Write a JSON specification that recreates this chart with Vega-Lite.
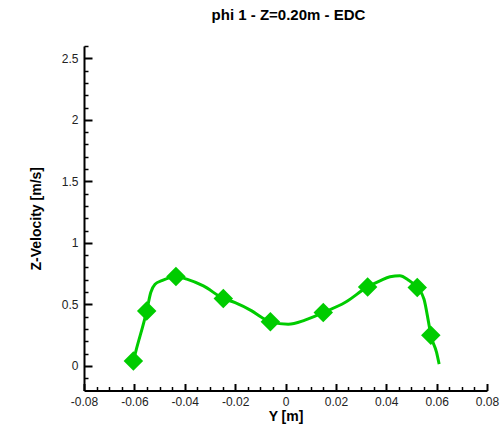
{
  "$schema": "https://vega.github.io/schema/vega-lite/v6.json",
  "width": 403,
  "height": 344.5,
  "autosize": "none",
  "padding": {"left": 84, "top": 46, "right": 16, "bottom": 39.5},
  "background": "white",
  "title": {"text": "phi 1 - Z=0.20m - EDC", "font": "Liberation Sans", "fontSize": 15, "fontWeight": "bold", "color": "black", "anchor": "middle", "offset": 17, "dx": 3},
  "config": {"view": {"stroke": null}},
  "datasets": {
    "curve": [
      {"y": -0.0604, "v": 0.04}, {"y": -0.0594, "v": 0.12}, {"y": -0.0551, "v": 0.447}, {"y": -0.0535, "v": 0.597},
      {"y": -0.0518, "v": 0.664}, {"y": -0.0491, "v": 0.693}, {"y": -0.0435, "v": 0.727}, {"y": -0.0392, "v": 0.705},
      {"y": -0.0326, "v": 0.65}, {"y": -0.0247, "v": 0.548}, {"y": -0.02, "v": 0.515}, {"y": -0.0134, "v": 0.447},
      {"y": -0.0094, "v": 0.393}, {"y": -0.006, "v": 0.358}, {"y": 0.0011, "v": 0.339}, {"y": 0.0077, "v": 0.372},
      {"y": 0.015, "v": 0.434}, {"y": 0.0236, "v": 0.515}, {"y": 0.0326, "v": 0.642}, {"y": 0.0375, "v": 0.691},
      {"y": 0.0415, "v": 0.724}, {"y": 0.0454, "v": 0.732}, {"y": 0.0487, "v": 0.699}, {"y": 0.0523, "v": 0.637},
      {"y": 0.055, "v": 0.542}, {"y": 0.0567, "v": 0.366}, {"y": 0.0577, "v": 0.25}, {"y": 0.06, "v": 0.108},
      {"y": 0.061, "v": 0.014}
    ],
    "markers": [
      {"y": -0.0604, "v": 0.04}, {"y": -0.0551, "v": 0.447}, {"y": -0.0435, "v": 0.727}, {"y": -0.0247, "v": 0.548},
      {"y": -0.006, "v": 0.358}, {"y": 0.015, "v": 0.434}, {"y": 0.0326, "v": 0.642}, {"y": 0.0523, "v": 0.637},
      {"y": 0.0577, "v": 0.25}
    ]
  },
  "encoding": {
    "x": {
      "field": "y", "type": "quantitative",
      "scale": {"domain": [-0.08, 0.08], "nice": false, "zero": false},
      "axis": {
        "title": "Y [m]", "titleFont": "Liberation Sans", "titleFontSize": 14, "titleFontWeight": "bold", "titleColor": "black", "titlePadding": -1,
        "grid": false, "domainColor": "black", "domainWidth": 2,
        "values": [-0.08, -0.075, -0.07, -0.065, -0.06, -0.055, -0.05, -0.045, -0.04, -0.035, -0.03, -0.025, -0.02, -0.015, -0.01, -0.005, 0, 0.005, 0.01, 0.015, 0.02, 0.025, 0.03, 0.035, 0.04, 0.045, 0.05, 0.055, 0.06, 0.065, 0.07, 0.075, 0.08],
        "labelExpr": "abs(datum.value/0.02 - round(datum.value/0.02)) < 1e-6 ? '' + datum.value : ''",
        "labelFont": "Liberation Sans", "labelFontSize": 12, "labelColor": "#222",
        "labelOverlap": false, "labelFlush": false, "labelBound": false,
        "tickColor": "black",
        "tickSize": {"condition": {"test": "abs(datum.value/0.02 - round(datum.value/0.02)) < 1e-6", "value": -7}, "value": -4},
        "tickWidth": {"condition": {"test": "abs(datum.value/0.02 - round(datum.value/0.02)) < 1e-6", "value": 2}, "value": 1.5},
        "labelPadding": 13
      }
    },
    "y": {
      "field": "v", "type": "quantitative",
      "scale": {"domain": [-0.2, 2.6], "nice": false, "zero": false},
      "axis": {
        "title": "Z-Velocity [m/s]", "titleFont": "Liberation Sans", "titleFontSize": 14, "titleFontWeight": "bold", "titleColor": "black", "titlePadding": 18,
        "grid": false, "domainColor": "black", "domainWidth": 2,
        "values": [-0.1, 0, 0.1, 0.2, 0.3, 0.4, 0.5, 0.6, 0.7, 0.8, 0.9, 1, 1.1, 1.2, 1.3, 1.4, 1.5, 1.6, 1.7, 1.8, 1.9, 2, 2.1, 2.2, 2.3, 2.4, 2.5, 2.6],
        "labelExpr": "abs(datum.value*2 - round(datum.value*2)) < 1e-6 ? '' + datum.value : ''",
        "labelFont": "Liberation Sans", "labelFontSize": 12, "labelColor": "#222",
        "labelOverlap": false, "labelFlush": false, "labelBound": false,
        "tickColor": "black",
        "tickSize": {"condition": {"test": "abs(datum.value*2 - round(datum.value*2)) < 1e-6", "value": -8}, "value": -4},
        "tickWidth": {"condition": {"test": "abs(datum.value*2 - round(datum.value*2)) < 1e-6", "value": 2}, "value": 1.5},
        "labelPadding": 14
      }
    }
  },
  "layer": [
    {
      "data": {"name": "curve"},
      "mark": {"type": "line", "color": "#00CC00", "strokeWidth": 3, "interpolate": "monotone"}
    },
    {
      "data": {"name": "markers"},
      "mark": {"type": "point", "shape": "diamond", "filled": true, "color": "#00CC00", "size": 380, "opacity": 1}
    }
  ]
}
